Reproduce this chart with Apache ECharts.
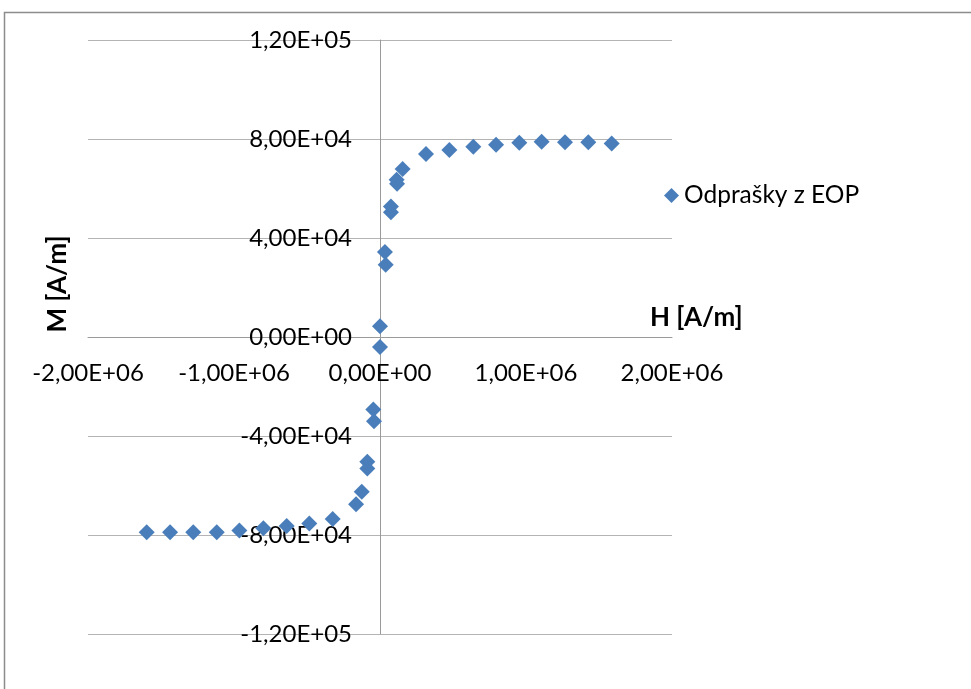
<!DOCTYPE html>
<html>
<head>
<meta charset="utf-8">
<script src="https://cdn.jsdelivr.net/npm/echarts@6/dist/echarts.min.js"></script>
<style>
  html, body { margin: 0; padding: 0; background: #ffffff; }
  #chart { width: 971px; height: 689px; }
</style>
</head>
<body>
<div id="chart"></div>
<script>
// Magnetization curve: field strength H [A/m] vs. magnetization M [A/m]
const seriesName = 'Odprašky z EOP';
const xTitle = 'H [A/m]';
const yTitle = 'M [A/m]';
const hValues = [
  -1598000, -1438000, -1279000, -1118000, -963000, -799000, -639000, -484000,
  -324000, -164000, -125000, -87000, -87000, -46000, -41000,
  0, 0,
  34000, 39000, 75000, 75000, 114000, 117000, 155000, 315000, 475000,
  639000, 795000, 954000, 1107000, 1267000, 1427000, 1587000
];
const mValues = [
  -78900, -78900, -78900, -78900, -78200, -77300, -76400, -75400,
  -73500, -67600, -62500, -53100, -50400, -29300, -34000,
  4300, -4000,
  34300, 29200, 52700, 50400, 63500, 61900, 67900, 73950, 75600,
  76900, 77700, 78500, 78900, 78700, 78700, 78200
];
const xTicks = [-2000000, -1000000, 0, 1000000, 2000000];
const yTicks = [-120000, -80000, -40000, 0, 40000, 80000, 120000];

const FONT = 'Lato, "Open Sans", sans-serif';

// Plot area
const GRID = { left: 88, right: 299, top: 40, bottom: 55 };
const W = 971, H = 689;
const plotW = W - GRID.left - GRID.right;
const plotH = H - GRID.top - GRID.bottom;
const xMin = xTicks[0], xMax = xTicks[xTicks.length - 1];
const yMin = yTicks[0], yMax = yTicks[yTicks.length - 1];
// Axes cross at the origin: shift each axis from its grid edge to zero
const xAxisShift = -plotH * (0 - yMin) / (yMax - yMin);
const yAxisShift = -plotW * (0 - xMin) / (xMax - xMin);

// Scientific format with decimal comma, e.g. -8,00E+04
function sci(v) {
  if (v === 0) return '0,00E+00';
  const sign = v < 0 ? '-' : '';
  const a = Math.abs(v);
  let e = Math.floor(Math.log10(a));
  let m = a / Math.pow(10, e);
  if (Math.round(m * 100) >= 1000) { m /= 10; e += 1; }
  const es = (e < 0 ? '-' : '+') + String(Math.abs(e)).padStart(2, '0');
  return sign + m.toFixed(2).replace('.', ',') + 'E' + es;
}

const points = hValues.map((h, i) => [h, mValues[i]]);

const chart = echarts.init(document.getElementById('chart'), null, { renderer: 'canvas' });
chart.setOption({
  backgroundColor: '#ffffff',
  animation: false,
  grid: Object.assign({ containLabel: false, outerBoundsMode: 'none' }, GRID),
  xAxis: {
    type: 'value',
    position: 'bottom',
    offset: xAxisShift,
    min: xMin,
    max: xMax,
    interval: 1000000,
    axisLine: { onZero: false, lineStyle: { color: '#9a9a9a', width: 1 } },
    axisTick: { show: false },
    splitLine: { show: false },
    axisLabel: {
      margin: 24,
      color: '#000000',
      fontFamily: FONT,
      fontSize: 24,
      showMinLabel: true,
      showMaxLabel: true,
      hideOverlap: false,
      formatter: sci
    }
  },
  yAxis: {
    type: 'value',
    position: 'left',
    offset: yAxisShift,
    min: yMin,
    max: yMax,
    interval: 40000,
    axisLine: { onZero: false, lineStyle: { color: '#9a9a9a', width: 1 } },
    axisTick: { show: false },
    splitLine: { show: true, lineStyle: { color: '#b4b4b4', width: 1 } },
    axisLabel: {
      margin: 28,
      color: '#000000',
      fontFamily: FONT,
      fontSize: 24,
      showMinLabel: true,
      showMaxLabel: true,
      formatter: sci
    }
  },
  legend: {
    left: 659,
    top: 178,
    icon: 'diamond',
    itemWidth: 15,
    itemHeight: 15,
    itemGap: 8,
    textStyle: { color: '#000000', fontFamily: FONT, fontSize: 24.5 },
    data: [seriesName]
  },
  graphic: [
    {
      type: 'rect',
      silent: true,
      shape: { x: 4.5, y: 12.5, width: 1000, height: 700 },
      style: { fill: 'none', stroke: '#8c8c8c', lineWidth: 1.5 }
    },
    {
      type: 'text',
      left: 650,
      top: 305,
      style: { text: xTitle, fill: '#000000', font: 'bold 26px ' + FONT }
    },
    {
      type: 'text',
      x: 58,
      y: 284,
      rotation: Math.PI / 2,
      style: {
        text: yTitle,
        fill: '#000000',
        font: 'bold 26px ' + FONT,
        align: 'center',
        verticalAlign: 'middle'
      }
    }
  ],
  series: [
    {
      name: seriesName,
      type: 'scatter',
      symbol: 'diamond',
      symbolSize: 16,
      itemStyle: { color: '#4a7ebb', opacity: 1 },
      data: points
    }
  ]
});
</script>
</body>
</html>
